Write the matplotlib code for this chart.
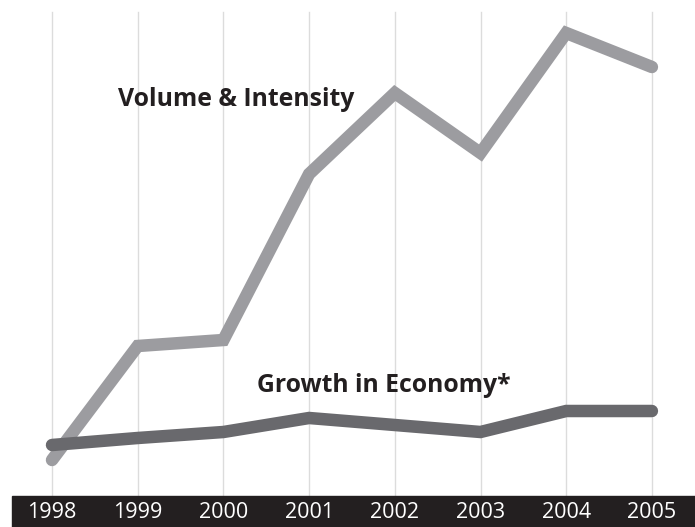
import matplotlib.pyplot as plt
from matplotlib.patches import Rectangle

# valores (altura relativa en pixeles sobre la banda negra)
years = ['1998', '1999', '2000', '2001', '2002', '2003', '2004', '2005']
volume = [36, 150, 156, 322, 403, 343, 463, 429]
growth = [51, 58, 64, 78, 71, 64, 85, 85]

light = '#9c9ca0'
dark = '#69696d'

fig = plt.figure(figsize=(6.95, 5.27), dpi=100)
ax = fig.add_axes([0, 0, 1, 1])
x = list(range(len(years)))

# lineas verticales de la rejilla
for xi in x:
    ax.plot([xi, xi], [0, 484], color='#dcdcdc', lw=1, zorder=1)

ax.plot(x, volume, color=light, lw=9, solid_capstyle='round',
        solid_joinstyle='miter', zorder=2)
ax.plot(x, growth, color=dark, lw=9, solid_capstyle='round',
        solid_joinstyle='miter', zorder=3)

ax.text(0.77, 397, 'Volume & Intensity', fontsize=17.8, fontweight='bold',
        family='Open Sans', color='#231f20', va='center', ha='left')
ax.text(2.39, 111, 'Growth in Economy*', fontsize=17.8, fontweight='bold',
        family='Open Sans', color='#231f20', va='center', ha='left')

# banda negra con los anos
ax.add_patch(Rectangle((-0.47, -31), 8.2, 31, color='#231f20', zorder=4,
                       clip_on=False))
for xi, y in zip(x, years):
    ax.text(xi, -17, y, color='white', fontsize=15.5, family='Open Sans',
            ha='center', va='center', zorder=5)

ax.set_xlim(-0.607, 7.503)
ax.set_ylim(-31, 496)
ax.axis('off')

plt.savefig('out.png', dpi=100)
